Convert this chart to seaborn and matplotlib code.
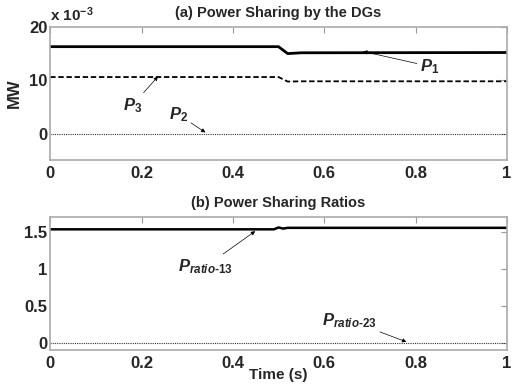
import numpy as np
import pandas as pd
import matplotlib
matplotlib.use("Agg")
import matplotlib.pyplot as plt
import seaborn as sns

# Data, power in units of 1e-3 MW
t = [0.0, 0.50, 0.52, 0.55, 1.0]
p1 = [16.3, 16.3, 15.0, 15.15, 15.2]
p3 = [10.6, 10.6, 9.75, 9.8, 9.8]
p2 = [0.0, 0.0, 0.0, 0.0, 0.0]

t_r = [0.0, 0.49, 0.50, 0.51, 0.52, 1.0]
ratio13 = [1.535, 1.535, 1.56, 1.545, 1.555, 1.555]
ratio23 = [0.0, 0.0, 0.0, 0.0, 0.0, 0.0]

xticks = [0, 0.2, 0.4, 0.6, 0.8, 1]
xticklabels = ["0", "0.2", "0.4", "0.6", "0.8", "1"]

sns.set_style("white")
plt.rcParams["font.family"] = ["Liberation Sans", "DejaVu Sans"]
plt.rcParams["font.weight"] = "bold"
plt.rcParams["mathtext.fontset"] = "custom"
plt.rcParams["mathtext.it"] = "Liberation Sans:italic:bold"
plt.rcParams["mathtext.rm"] = "Liberation Sans:bold"
plt.rcParams["mathtext.default"] = "it"

fig = plt.figure(figsize=(5.12, 3.85), dpi=100)
ax1 = fig.add_axes([0.098, 0.584, 0.892, 0.346])
ax2 = fig.add_axes([0.098, 0.091, 0.892, 0.345])

df1 = pd.DataFrame({"t": t, "P1": p1, "P3": p3, "P2": p2})
sns.lineplot(data=df1, x="t", y="P1", ax=ax1, color="black", lw=2)
sns.lineplot(data=df1, x="t", y="P3", ax=ax1, color="black", lw=1.3, linestyle=(0, (3, 1.5)))
sns.lineplot(data=df1, x="t", y="P2", ax=ax1, color="#333333", lw=0.8, linestyle=(0, (1, 1)))

df2 = pd.DataFrame({"t": t_r, "r13": ratio13, "r23": ratio23})
sns.lineplot(data=df2, x="t", y="r13", ax=ax2, color="black", lw=1.8)
sns.lineplot(data=df2, x="t", y="r23", ax=ax2, color="#333333", lw=0.8, linestyle=(0, (1, 1)))

for ax in (ax1, ax2):
    ax.set_xlim(0, 1)
    ax.set_xticks(xticks)
    ax.set_xticklabels(xticklabels)
    ax.tick_params(direction="in", length=4, color="#999999", labelsize=12,
                   top=True, right=True)
    ax.tick_params(axis="x", pad=4)
    ax.tick_params(axis="y", pad=2)
    for s in ax.spines.values():
        s.set_color("#aaaaaa")
        s.set_linewidth(1.2)
    ax.set_xlabel("")
    ax.set_ylabel("")

ax1.set_ylim(-5, 20)
ax1.set_yticks([0, 10, 20])
ax1.set_yticklabels(["0", "10", "20"])
ax1.set_ylabel("MW", fontsize=12, fontweight="bold", labelpad=5)
ax1.set_title("(a) Power Sharing by the DGs", fontsize=10.5, fontweight="bold", pad=7)
ax1.text(0.0, 1.02, r"x 10$^{\mathrm{-3}}$", transform=ax1.transAxes, fontsize=11,
         fontweight="bold", ha="left", va="bottom")

ax2.set_ylim(-0.1, 1.7)
ax2.set_yticks([0, 0.5, 1, 1.5])
ax2.set_yticklabels(["0", "0.5", "1", "1.5"])
ax2.set_title("(b) Power Sharing Ratios", fontsize=10.5, fontweight="bold", pad=7)
ax2.set_xlabel("Time (s)", fontsize=11, fontweight="bold", labelpad=-2)
for lab in ax1.get_xticklabels() + ax1.get_yticklabels() + ax2.get_xticklabels() + ax2.get_yticklabels():
    lab.set_fontweight("bold")

arrow = dict(arrowstyle="-|>", color="black", lw=0.5, mutation_scale=6, shrinkA=0, shrinkB=0)
ax1.annotate(r"$P_{1}$", xy=(0.685, 15.4), xytext=(0.81, 12.6), fontsize=12,
             ha="left", va="center", arrowprops=arrow)
ax1.annotate(r"$P_{3}$", xy=(0.236, 10.7), xytext=(0.18, 5.3), fontsize=12,
             ha="center", va="center", arrowprops=arrow)
ax1.annotate(r"$P_{2}$", xy=(0.34, 0.2), xytext=(0.28, 3.6), fontsize=12,
             ha="center", va="center", arrowprops=arrow)
ax2.annotate(r"$P_{ratio\text{-}13}$", xy=(0.449, 1.51), xytext=(0.34, 1.03), fontsize=12,
             ha="center", va="center", arrowprops=arrow)
ax2.annotate(r"$P_{ratio\text{-}23}$", xy=(0.78, 0.01), xytext=(0.655, 0.3), fontsize=12,
             ha="center", va="center", arrowprops=arrow)

fig.savefig("out.png", dpi=100)
